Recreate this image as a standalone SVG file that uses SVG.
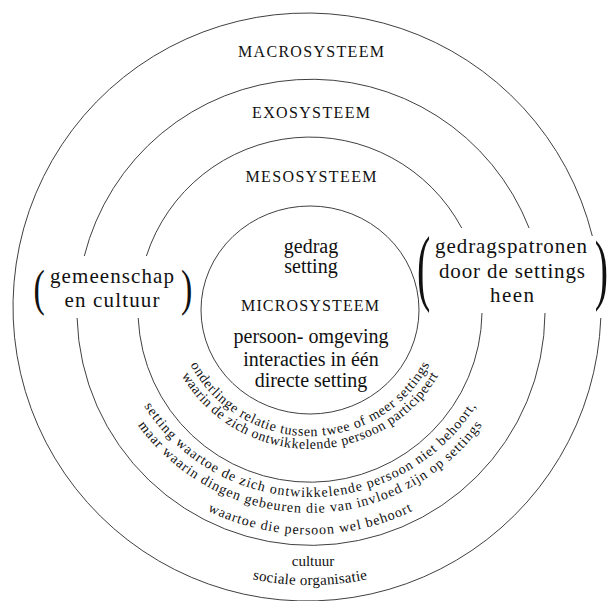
<svg xmlns="http://www.w3.org/2000/svg" width="607" height="601" viewBox="0 0 607 601">
<style>
.ring{fill:none;stroke:#404040;stroke-width:1}
.t{font-family:"Liberation Serif","Times New Roman",serif;fill:#111}
.cap{font-size:16px;text-anchor:middle}
.lab{font-size:21px;text-anchor:middle}
.mic{font-size:20px;text-anchor:middle}
.arc{font-size:14px;text-anchor:middle}
.sm{font-size:15px;text-anchor:middle}
.par{font-size:34px}
</style>
<defs>
<path id="a1" d="M178.6 335.2 A136 136 0 0 0 441.4 335.2"/>
<path id="a2" d="M166.1 338.6 A149 149 0 0 0 453.9 338.6"/>
<path id="a3" d="M119.7 351 A197 197 0 0 0 500.3 351"/>
<path id="a4" d="M104.3 355.1 A213 213 0 0 0 515.7 355.1"/>
<path id="a5" d="M83.1 360.6 A235 235 0 0 0 536.9 360.6"/>
<path id="a6" d="M34.7 373.8 A285 285 0 0 0 585.3 373.8"/>
</defs>
<rect width="607" height="601" fill="#fff"/>
<g id="connectors">
<path id="macro-ring" class="ring" d="M600.8 318 A294 294 0 1 1 592.3 236"/>
<path id="exo-ring-top" class="ring" d="M84.3 256 A234 234 0 0 1 529.1 228"/>
<path id="exo-ring-bottom" class="ring" d="M545 313 A234 234 0 0 1 77.1 318"/>
<path id="meso-ring-top" class="ring" d="M146.4 256 A172 172 0 0 1 461.7 228"/>
<path id="meso-ring-bottom" class="ring" d="M482 313 A172 172 0 0 1 138.2 318"/>
<ellipse id="micro-ring" class="ring" cx="310" cy="310" rx="109" ry="104"/>
</g>
<g id="macrosysteem">
<text class="t cap" x="311" y="57" textLength="146" lengthAdjust="spacing">MACROSYSTEEM</text>
<text class="t sm" x="313" y="566">cultuur</text>
<text class="t sm"><textPath href="#a6" startOffset="50%" textLength="116" lengthAdjust="spacing">sociale organisatie</textPath></text>
</g>
<g id="exosysteem">
<text class="t cap" x="311" y="118" textLength="118" lengthAdjust="spacing">EXOSYSTEEM</text>
<text class="t arc"><textPath href="#a3" startOffset="50%" textLength="395" lengthAdjust="spacing">setting waartoe de zich ontwikkelende persoon niet behoort,</textPath></text>
<text class="t arc"><textPath href="#a4" startOffset="50%" textLength="401" lengthAdjust="spacing">maar waarin dingen gebeuren die van invloed zijn op settings</textPath></text>
<text class="t arc"><textPath href="#a5" startOffset="50%" textLength="212" lengthAdjust="spacing">waartoe die persoon wel behoort</textPath></text>
</g>
<g id="mesosysteem">
<text class="t cap" x="311" y="182" textLength="131" lengthAdjust="spacing">MESOSYSTEEM</text>
<text class="t arc"><textPath href="#a1" startOffset="50%" textLength="292" lengthAdjust="spacing">onderlinge relatie tussen twee of meer settings</textPath></text>
<text class="t arc"><textPath href="#a2" startOffset="50%" textLength="309" lengthAdjust="spacing">waarin de zich ontwikkelende persoon participeert</textPath></text>
</g>
<g id="microsysteem">
<text class="t mic" x="311" y="253">gedrag</text>
<text class="t mic" x="311" y="273">setting</text>
<text class="t cap" x="310" y="311" textLength="138" lengthAdjust="spacing">MICROSYSTEEM</text>
<text class="t mic" x="311" y="343">persoon- omgeving</text>
<text class="t mic" x="311" y="366">interacties in één</text>
<text class="t mic" x="311" y="387">directe setting</text>
</g>
<g id="gemeenschap">
<text class="t par" transform="translate(33.5 304.5) scale(1 1.5)">(</text>
<text class="t lab" x="112" y="283" textLength="124" lengthAdjust="spacing">gemeenschap</text>
<text class="t lab" x="112" y="307" textLength="95" lengthAdjust="spacing">en cultuur</text>
<text class="t par" transform="translate(181 304.5) scale(1 1.5)">)</text>
</g>
<g id="gedragspatronen">
<text class="t" style="font-size:40px" transform="translate(417 294.8) scale(1 2.1)">(</text>
<text class="t lab" x="511" y="253" textLength="152" lengthAdjust="spacing">gedragspatronen</text>
<text class="t lab" x="512" y="278" textLength="146" lengthAdjust="spacing">door de settings</text>
<text class="t lab" x="512" y="302" textLength="44" lengthAdjust="spacing">heen</text>
<text class="t" style="font-size:40px" transform="translate(594.8 295.2) scale(1 1.93)">)</text>
</g>
</svg>
